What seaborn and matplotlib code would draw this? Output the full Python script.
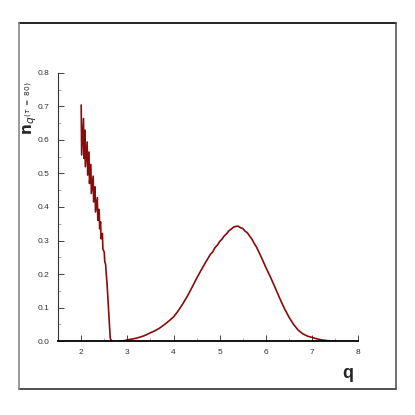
import matplotlib
matplotlib.use('Agg')
import matplotlib.pyplot as plt
import matplotlib.lines as mlines
from matplotlib.ticker import MultipleLocator
import seaborn as sns
import pandas as pd

# left branch: oscillating decay
q_left = [2.00, 2.01, 2.05, 2.06, 2.08, 2.09, 2.13, 2.14, 2.17, 2.18,
          2.21, 2.22, 2.26, 2.27, 2.30, 2.31, 2.35, 2.36, 2.39, 2.40,
          2.42, 2.43, 2.46, 2.47, 2.50, 2.51, 2.53, 2.54, 2.56, 2.58,
          2.61, 2.63, 2.66, 2.72, 2.80, 2.90]
n_left = [0.704, 0.555, 0.664, 0.545, 0.629, 0.520, 0.594, 0.495, 0.564, 0.470,
          0.527, 0.440, 0.492, 0.415, 0.460, 0.385, 0.428, 0.360, 0.393, 0.335,
          0.356, 0.305, 0.321, 0.275, 0.265, 0.238, 0.228, 0.205, 0.172, 0.125,
          0.054, 0.008, 0.000, -0.002, -0.002, 0.000]

# right branch: bump, slightly ragged near the top
q_right = [3.00, 3.10, 3.20, 3.30, 3.40, 3.50, 3.60, 3.70, 3.80, 3.90,
           4.00, 4.10, 4.20, 4.30, 4.40, 4.50, 4.60, 4.70,
           4.80, 4.85, 4.90, 4.95, 5.00, 5.05, 5.10, 5.15, 5.20, 5.25,
           5.30, 5.35, 5.40, 5.45, 5.50, 5.55, 5.60, 5.65, 5.70, 5.75, 5.80,
           5.90, 6.00, 6.10, 6.20, 6.30, 6.40, 6.50, 6.60, 6.70, 6.80,
           6.90, 7.00, 7.10, 7.20, 7.30, 7.40]
n_right = [0.004, 0.006, 0.009, 0.013, 0.018, 0.025, 0.031, 0.039, 0.049, 0.060,
           0.072, 0.090, 0.111, 0.134, 0.160, 0.187, 0.212, 0.236,
           0.259, 0.266, 0.279, 0.286, 0.297, 0.304, 0.314, 0.320, 0.329, 0.334,
           0.340, 0.342, 0.343, 0.338, 0.336, 0.328, 0.323, 0.313, 0.304, 0.291,
           0.280, 0.251, 0.220, 0.191, 0.160, 0.128, 0.098, 0.072, 0.050, 0.033,
           0.022, 0.015, 0.011, 0.007, 0.004, 0.002, 0.000]

frame = pd.DataFrame({'q': q_left + q_right, 'n': n_left + n_right})

sns.set_style('white')
plt.rcParams['font.family'] = ['Liberation Sans', 'DejaVu Sans']

fig = plt.figure(figsize=(4.15, 4.15), dpi=100)
ax = fig.add_axes([0.140, 0.178, 0.723, 0.6465])

sns.lineplot(x='q', y='n', data=frame, sort=False, estimator=None,
             color='#8b0a0a', lw=1.2, ax=ax)

ax.set_xlim(1.5, 8)
ax.set_ylim(0, 0.8)
ax.xaxis.set_minor_locator(MultipleLocator(0.5))
ax.yaxis.set_minor_locator(MultipleLocator(0.05))
ax.set_xticks([2, 3, 4, 5, 6, 7, 8])
ax.set_yticks([0.0, 0.1, 0.2, 0.3, 0.4, 0.5, 0.6, 0.7, 0.8])
ax.set_yticklabels(['0.0', '0.1', '0.2', '0.3', '0.4', '0.5', '0.6', '0.7', '0.8'])
ax.tick_params(which='major', direction='in', length=4, width=0.7,
               labelsize=6, colors='#444', labelcolor='#333', pad=6)
ax.tick_params(which='minor', direction='in', length=2, width=0.5, colors='#888')
ax.tick_params(left=True, bottom=True, which='both')
ax.set_xlabel('')
ax.set_ylabel('')

sns.despine(ax=ax)
ax.spines['left'].set_color('#333')
ax.spines['left'].set_linewidth(0.8)
ax.spines['bottom'].set_color('black')
ax.spines['bottom'].set_linewidth(1.3)

fig.text(348 / 415, 1 - 373 / 415, 'q', fontsize=13, fontweight='bold',
         ha='center', va='center')
fig.text(30 / 415, 1 - 108 / 415, r'$\mathbf{n}_{q^{(\tau\ =\ 80)}}$', fontsize=11,
         rotation=90, ha='center', va='center')

# outer frame
x0, x1 = 19 / 415, 396 / 415
y0, y1 = 1 - 389 / 415, 1 - 23 / 415
fig.add_artist(mlines.Line2D([x0, x1], [y1, y1], color='black', lw=1.2))
fig.add_artist(mlines.Line2D([x0, x1], [y0, y0], color='#333', lw=1.2))
fig.add_artist(mlines.Line2D([x0, x0], [y0, y1], color='#888', lw=1.2))
fig.add_artist(mlines.Line2D([x1, x1], [y0, y1], color='#555', lw=1.2))

fig.savefig('out.png', dpi=100)
